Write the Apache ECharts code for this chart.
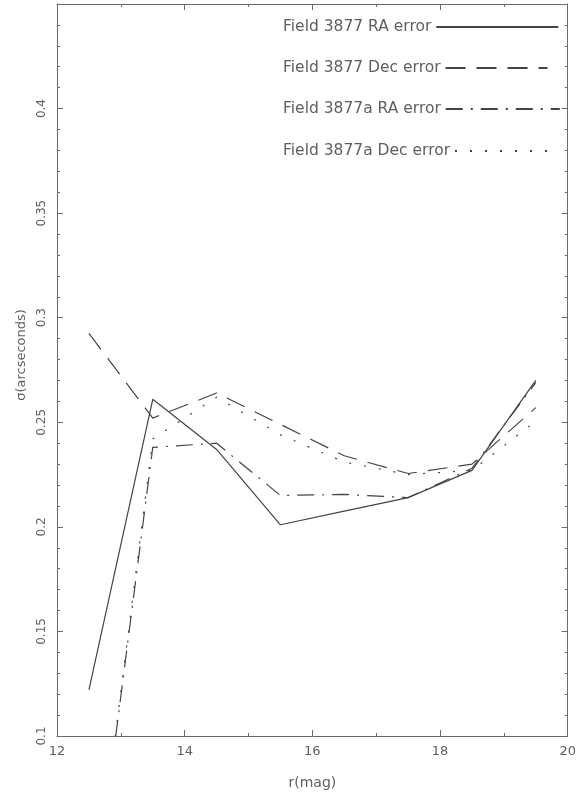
<!DOCTYPE html>
<html>
<head>
<meta charset="utf-8">
<script src="https://cdn.jsdelivr.net/npm/echarts@6/dist/echarts.min.js"></script>
<style>
  html, body { margin: 0; padding: 0; background: #fff; }
  #chart { width: 579px; height: 796px; }
</style>
</head>
<body>
<div id="chart"></div>
<script>
// Astrometric error versus r magnitude for fields 3877 and 3877a
const magnitudes = [12.5, 13.5, 14.5, 15.5, 16.5, 17.5, 18.5, 19.5];
const ra3877   = [0.122, 0.261, 0.237, 0.201, 0.2075, 0.214, 0.227, 0.270];
const dec3877  = [0.2925, 0.252, 0.264, 0.249, 0.234, 0.2255, 0.230, 0.257];
const ra3877a  = [0.0, 0.238, 0.240, 0.215, 0.2155, 0.214, 0.228, 0.269];
const dec3877a = [0.0, 0.242, 0.262, 0.244, 0.231, 0.225, 0.227, 0.2505];

const seriesNames = [
  'Field 3877 RA error',
  'Field 3877 Dec error',
  'Field 3877a RA error',
  'Field 3877a Dec error'
];
const seriesValues = [ra3877, dec3877, ra3877a, dec3877a];
const dashStyles = ['solid', [20, 11], [17, 8, 2, 8], [2, 13]];

const ink = '#444444';
const axisColor = '#6a6a6a';
const textColor = '#606060';
const fontFamily = 'DejaVu Sans';

// Key entries: one legend box per series so the texts share a left edge
const keyTops = [19, 60, 101, 143];
const keyLineWidths = [122, 102, 114, 93];

function pairs(values) {
  return magnitudes.map((m, i) => [m, values[i]]);
}

const xBase = {
  type: 'value', min: 12, max: 20, interval: 2,
  axisLine: { show: true, lineStyle: { color: axisColor, width: 1 } },
  axisTick: { show: true, inside: true, length: 6, lineStyle: { color: axisColor } },
  minorTick: { show: true, splitNumber: 2, length: 3, lineStyle: { color: axisColor } },
  splitLine: { show: false }
};
const yBase = {
  type: 'value', min: 0.1, max: 0.45, interval: 0.05,
  axisLine: { show: true, lineStyle: { color: axisColor, width: 1 } },
  axisTick: { show: true, inside: true, length: 6, lineStyle: { color: axisColor } },
  minorTick: { show: true, splitNumber: 5, length: 3, lineStyle: { color: axisColor } },
  splitLine: { show: false }
};

const legends = seriesNames.map((name, i) => ({
  orient: 'horizontal',
  left: 283,
  top: keyTops[i],
  padding: 0,
  align: 'right',
  itemWidth: keyLineWidths[i],
  itemHeight: 16,
  data: [name],
  itemStyle: { opacity: 0 },
  textStyle: { color: textColor, fontSize: 15.5, fontFamily: fontFamily },
  selectedMode: false
}));

const chart = echarts.init(document.getElementById('chart'), null, { renderer: 'canvas' });
chart.setOption({
  backgroundColor: '#ffffff',
  animation: false,
  grid: { left: 57, right: 10, top: 4, bottom: 60 },
  legend: legends,
  xAxis: [
    Object.assign({}, xBase, {
      position: 'bottom',
      name: 'r(mag)', nameLocation: 'middle', nameGap: 40,
      nameTextStyle: { color: textColor, fontSize: 14, fontFamily: fontFamily },
      axisLabel: { show: true, margin: 9, color: textColor, fontSize: 13, fontFamily: fontFamily }
    }),
    Object.assign({}, xBase, { position: 'top', axisLabel: { show: false } })
  ],
  yAxis: [
    Object.assign({}, yBase, {
      position: 'left',
      name: 'σ(arcseconds)', nameLocation: 'middle', nameGap: 20, nameRotate: 90,
      nameTextStyle: { color: textColor, fontSize: 13, fontFamily: fontFamily, padding: [0, 0, 0, 30] },
      axisLabel: {
        show: true, rotate: 90, margin: 9, color: textColor, fontSize: 12, fontFamily: fontFamily,
        formatter: v => (v > 0.44 ? '' : String(+v.toFixed(2)))
      }
    }),
    Object.assign({}, yBase, { position: 'right', axisLabel: { show: false } })
  ],
  series: seriesNames.map((name, i) => ({
    name: name,
    type: 'line',
    xAxisIndex: 0,
    yAxisIndex: 0,
    data: pairs(seriesValues[i]),
    symbol: 'none',
    clip: true,
    lineStyle: { color: ink, width: 1.2, type: dashStyles[i] },
    itemStyle: { color: ink }
  }))
});
</script>
</body>
</html>
